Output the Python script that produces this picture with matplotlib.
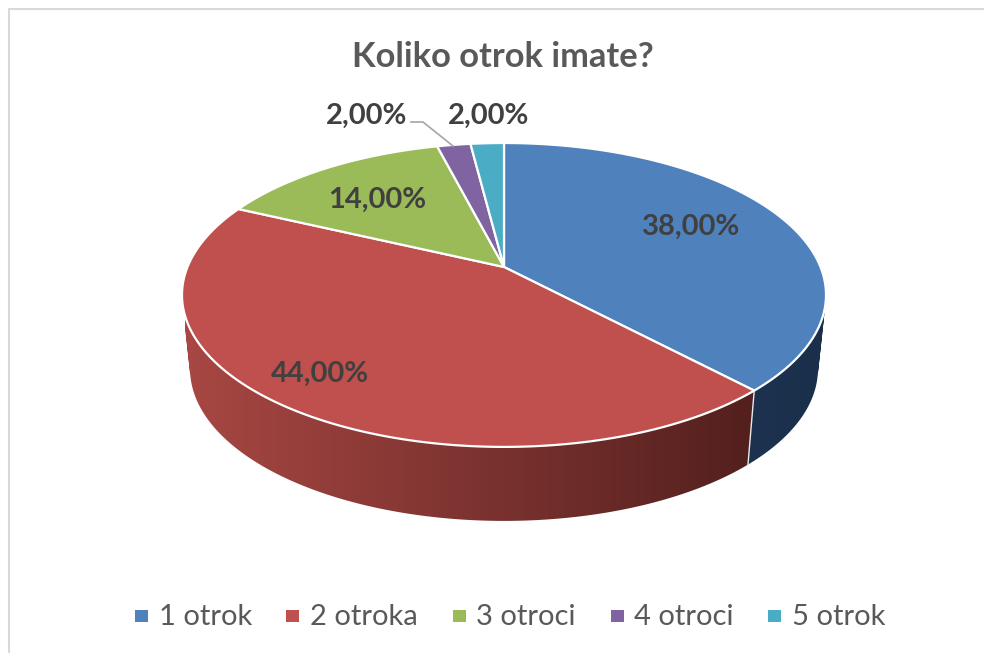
import numpy as np
import matplotlib
matplotlib.use('Agg')
import matplotlib.pyplot as plt
from matplotlib.colors import LinearSegmentedColormap
from matplotlib.patches import PathPatch, Polygon, Rectangle
from matplotlib.path import Path

labels = ['1 otrok', '2 otroka', '3 otroci', '4 otroci', '5 otrok']
values = [38, 44, 14, 2, 2]
title = 'Koliko otrok imate?'

colors = ['#4F81BD', '#C0504D', '#9BBB59', '#8064A2', '#4BACC6']
# side wall colour at the left and right end of the gradient
side_left = ['#2A4A70', '#A84743', '#7F9A49', '#6A5386', '#3E8EA4']
side_right = ['#1A2F4A', '#481B19', '#4A5A2A', '#3C2F4C', '#245463']

# layout, pixels of the 984x653 picture
label_pos = [(691, 227), (320, 374), (377, 200), (367, 116), (489, 116)]
legend_box_x = [135, 286, 453, 611, 768]
legend_text_x = [159, 310, 476, 634, 792]

CX, CY = 504, 267
B, A, K = 316.5, 146.8, 0.184
DEPTH, SHRINK = 74, 0.975

plt.rcParams['font.family'] = ['Lato', 'DejaVu Sans']


def rim(start, stop):
    # points of the tilted pie edge, angles clockwise from the top
    t = np.radians(np.linspace(start, stop, max(int(stop - start) * 2, 4)))
    w = 1 + K * np.cos(t)
    return CX + B * np.sin(t) / w, CY - A * np.cos(t) / w


def wall_path(x, y, xb, yb):
    # union of small quads, all wound the same way so none cancels out
    parts = []
    for j in range(len(x) - 1):
        q = np.array([(x[j], y[j]), (x[j + 1], y[j + 1]), (xb[j + 1], yb[j + 1]), (xb[j], yb[j])])
        area = np.sum(q[:, 0] * np.roll(q[:, 1], -1) - np.roll(q[:, 0], -1) * q[:, 1])
        if area < 0:
            q = q[::-1]
        parts.append(Path(np.r_[q, q[:1]], closed=True))
    return Path.make_compound_path(*parts)


fig = plt.figure(figsize=(9.84, 6.53), dpi=100)
ax = fig.add_axes([0, 0, 1, 1])
ax.axis('off')

edges = np.cumsum([0] + values) / sum(values) * 360

# side walls, gradient image cut to the wall shape
for i in range(len(values)):
    x, y = rim(edges[i], edges[i + 1])
    xb = CX + SHRINK * (x - CX)
    yb = y + DEPTH
    cmap = LinearSegmentedColormap.from_list('side', [side_left[i], side_right[i]])
    im = ax.imshow(np.linspace(0, 1, 256).reshape(1, -1), cmap=cmap, aspect='auto',
                   extent=[185, 825, 530, 140], zorder=1)
    clip = PathPatch(wall_path(x, y, xb, yb), transform=ax.transData)
    im.set_clip_path(clip)
    if i == 1:
        ax.plot([x[0], xb[0]], [y[0], yb[0]], color='#E8E8E8', lw=1, zorder=1.5)

# top face
for i in range(len(values)):
    x, y = rim(edges[i], edges[i + 1])
    ax.add_patch(Polygon(np.r_[[[CX, CY]], np.c_[x, y]], closed=True, facecolor=colors[i],
                         edgecolor='white', lw=1.6, joinstyle='round', zorder=2))

# labels
for v, (lx, ly) in zip(values, label_pos):
    ax.text(lx, ly, f'{v:.2f}%'.replace('.', ','), ha='center', va='center',
            fontsize=21, fontweight='bold', color='#404040', zorder=3)
ax.plot([411, 423, 453], [122, 122, 146], color='#A6A6A6', lw=1.2, zorder=3)

ax.text(503, 57, title, ha='center', va='center', fontsize=24.8, fontweight='bold', color='#595959')

# legend
for i, name in enumerate(labels):
    ax.add_patch(Rectangle((legend_box_x[i], 609.5), 12.5, 12.5, facecolor=colors[i], edgecolor='none'))
    ax.text(legend_text_x[i], 617, name, ha='left', va='center', fontsize=21, color='#595959')

# chart frame
ax.plot([8.5, 8.5, 984], [653, 8.5, 8.5], color='#D9D9D9', lw=1.5, zorder=0)

ax.set_xlim(0, 984)
ax.set_ylim(653, 0)
fig.savefig('out.png', dpi=100)
